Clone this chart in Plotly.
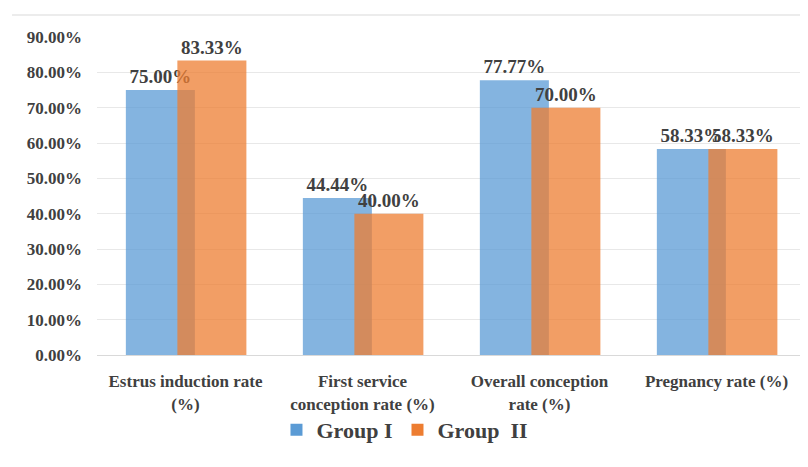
import plotly.graph_objects as go

categories = ["Estrus induction rate<br>(%)", "First service<br>conception rate (%)",
              "Overall conception<br>rate (%)", "Pregnancy rate (%)"]
group1 = [0.75, 0.4444, 0.7777, 0.5833]
group2 = [0.8333, 0.40, 0.70, 0.5833]
labels1 = ["75.00%", "44.44%", "77.77%", "58.33%"]
labels2 = ["83.33%", "40.00%", "70.00%", "58.33%"]

font_family = "Liberation Serif, Times New Roman, serif"
text_color = "#404040"

fig = go.Figure()
fig.add_trace(go.Bar(
    x=categories, y=group1, name="Group I",
    marker=dict(color="#5B9BD5", opacity=0.75, line=dict(width=0)),
    width=0.39, offset=-0.337,
    text=labels1, textposition="outside",
    textfont=dict(family=font_family, size=19, color=text_color, weight="bold"),
    cliponaxis=False,
))
fig.add_trace(go.Bar(
    x=categories, y=group2, name="Group  II",
    marker=dict(color="#ED7D31", opacity=0.75, line=dict(width=0)),
    width=0.39, offset=-0.046,
    text=labels2, textposition="outside",
    textfont=dict(family=font_family, size=19, color=text_color, weight="bold"),
    cliponaxis=False,
))

fig.update_layout(
    width=800, height=459,
    barmode="overlay",
    paper_bgcolor="white", plot_bgcolor="white",
    margin=dict(l=89, r=3, t=29, b=112),
    font=dict(family=font_family, color=text_color),
    xaxis=dict(
        showline=True, linecolor="#d9d9d9", linewidth=1, automargin=False,
        tickfont=dict(family=font_family, size=17, color=text_color, weight="bold"),
        ticks="", showgrid=False, ticklabelstandoff=11,
    ),
    yaxis=dict(
        range=[0, 0.9], dtick=0.1, tickformat=".2%", automargin=False,
        showgrid=True, gridcolor="#e8e8e8", zeroline=False,
        tickfont=dict(family=font_family, size=17, color=text_color, weight="bold"),
        ticks="", ticklabelstandoff=14,
    ),
    legend=dict(
        orientation="h", x=0.435, xanchor="center", y=-0.17, yanchor="top",
        bgcolor="rgba(0,0,0,0)",
        font=dict(family=font_family, size=22, color=text_color, weight="bold"),
    ),
    shapes=[dict(type="line", xref="paper", yref="paper", x0=-0.12, x1=1.02,
                 y0=1 + 22 / 318, y1=1 + 22 / 318,
                 line=dict(color="#d9d9d9", width=1))],
)

fig.write_html("out.html")
